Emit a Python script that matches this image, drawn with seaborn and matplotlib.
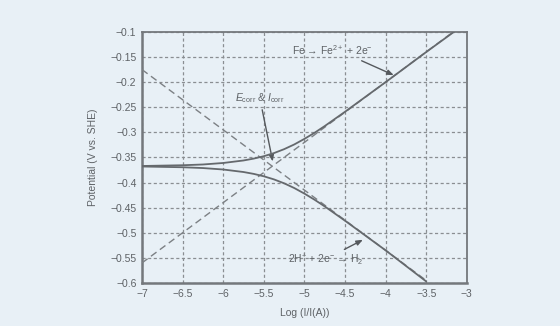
import matplotlib
matplotlib.use("Agg")
import matplotlib.pyplot as plt
import seaborn as sns
import pandas as pd

# ---- data ----
log_i_anodic = [-7, -6.5, -6.25, -6, -5.75, -5.625, -5.5, -5.375, -5.25, -5.125, -5, -4.875,
                -4.75, -4.5, -4, -3.5, -3.16]
E_anodic = [-0.367, -0.3655, -0.364, -0.361, -0.356, -0.3523, -0.3475, -0.3413, -0.3335, -0.3241,
            -0.313, -0.3008, -0.2875, -0.259, -0.200, -0.140, -0.100]
log_i_cathodic = [-7, -6.5, -6.25, -6, -5.75, -5.625, -5.5, -5.375, -5.25, -5.125, -5, -4.875,
                  -4.75, -4.5, -4, -3.5]
E_cathodic = [-0.368, -0.3695, -0.3711, -0.374, -0.379, -0.3827, -0.3875, -0.3937, -0.4015, -0.4109,
              -0.422, -0.4342, -0.4475, -0.476, -0.535, -0.597]
tafel_a_x = [-7, -3.16]
tafel_a_y = [-0.56, -0.099]
tafel_c_x = [-7, -3.5]
tafel_c_y = [-0.175, -0.595]

x_ticks = [-7, -6.5, -6, -5.5, -5, -4.5, -4, -3.5, -3]
x_labels = ["\u22127", "\u22126.5", "\u22126", "\u22125.5", "\u22125", "\u22124.5", "\u22124", "\u22123.5", "\u22123"]
y_ticks = [-0.1, -0.15, -0.2, -0.25, -0.3, -0.35, -0.4, -0.45, -0.5, -0.55, -0.6]
y_labels = ["\u22120.1", "\u22120.15", "\u22120.2", "\u22120.25", "\u22120.3", "\u22120.35",
            "\u22120.4", "\u22120.45", "\u22120.5", "\u22120.55", "\u22120.6"]

sns.set_theme(style="white")
plt.rcParams["font.family"] = ["Liberation Sans", "DejaVu Sans"]
plt.rcParams["mathtext.fontset"] = "custom"
plt.rcParams["mathtext.rm"] = "Liberation Sans"
plt.rcParams["mathtext.it"] = "Liberation Sans:italic"

bg = "#e8f0f6"
ink = "#5e6266"
fig = plt.figure(figsize=(5.6, 3.26), dpi=100, facecolor=bg)
ax = fig.add_axes([0.2536, 0.132, 0.58, 0.77])
ax.set_facecolor(bg)

df_a = pd.DataFrame({"x": log_i_anodic, "y": E_anodic})
df_c = pd.DataFrame({"x": log_i_cathodic, "y": E_cathodic})
df_ta = pd.DataFrame({"x": tafel_a_x, "y": tafel_a_y})
df_tc = pd.DataFrame({"x": tafel_c_x, "y": tafel_c_y})

sns.lineplot(data=df_ta, x="x", y="y", ax=ax, color="#7c8084", lw=1.0,
             linestyle=(0, (5, 3)), sort=False, zorder=3)
sns.lineplot(data=df_tc, x="x", y="y", ax=ax, color="#7c8084", lw=1.0,
             linestyle=(0, (5, 3)), sort=False, zorder=3)
sns.lineplot(data=df_a, x="x", y="y", ax=ax, color="#65696d", lw=1.3, sort=False, zorder=4)
sns.lineplot(data=df_c, x="x", y="y", ax=ax, color="#65696d", lw=1.3, sort=False, zorder=4)

ax.set_xlim(-7, -3)
ax.set_ylim(-0.6, -0.1)
ax.set_xticks(x_ticks)
ax.set_xticklabels(x_labels)
ax.set_yticks(y_ticks)
ax.set_yticklabels(y_labels)
ax.tick_params(axis="both", direction="in", length=3, width=1, colors=ink,
               labelsize=7.5, pad=4)
ax.grid(True, color="#8a8e92", linestyle=(0, (2.5, 2)), lw=0.9)
for s in ax.spines.values():
    s.set_visible(True)
    s.set_color("#74787c")
    s.set_linewidth(1.3)
ax.spines["left"].set_linewidth(1.8)
ax.spines["bottom"].set_linewidth(1.8)

ax.set_xlabel("Log (I/I(A))", fontsize=7.5, color=ink, labelpad=7)
ax.set_ylabel("Potential (V vs. SHE)", fontsize=7.5, color=ink, labelpad=9)

arrow = dict(arrowstyle="-|>,head_length=0.5,head_width=0.2", color="#55595d", lw=1.0,
             shrinkA=1, shrinkB=0)
ax.annotate("Fe \u2192 Fe$^{2+}$ + 2e$^{\u2212}$", xy=(-3.9, -0.186), xytext=(-4.65, -0.136),
            fontsize=7.5, color=ink, ha="center", va="center",
            arrowprops=dict(arrow, relpos=(0.75, 0.0)))
ax.annotate("$E_{\\mathrm{corr}}$ & $I_{\\mathrm{corr}}$", xy=(-5.39, -0.358), xytext=(-5.55, -0.232),
            fontsize=7.5, color=ink, ha="center", va="center",
            arrowprops=dict(arrow, relpos=(0.53, 0.0)))
ax.annotate("2H$^{+}$ + 2e$^{\u2212}$ \u2192 H$_{2}$", xy=(-4.28, -0.514), xytext=(-4.74, -0.556),
            fontsize=7.5, color=ink, ha="center", va="center",
            arrowprops=dict(arrow, relpos=(0.65, 1.0)))

fig.savefig("out.png", dpi=100, facecolor=bg)
